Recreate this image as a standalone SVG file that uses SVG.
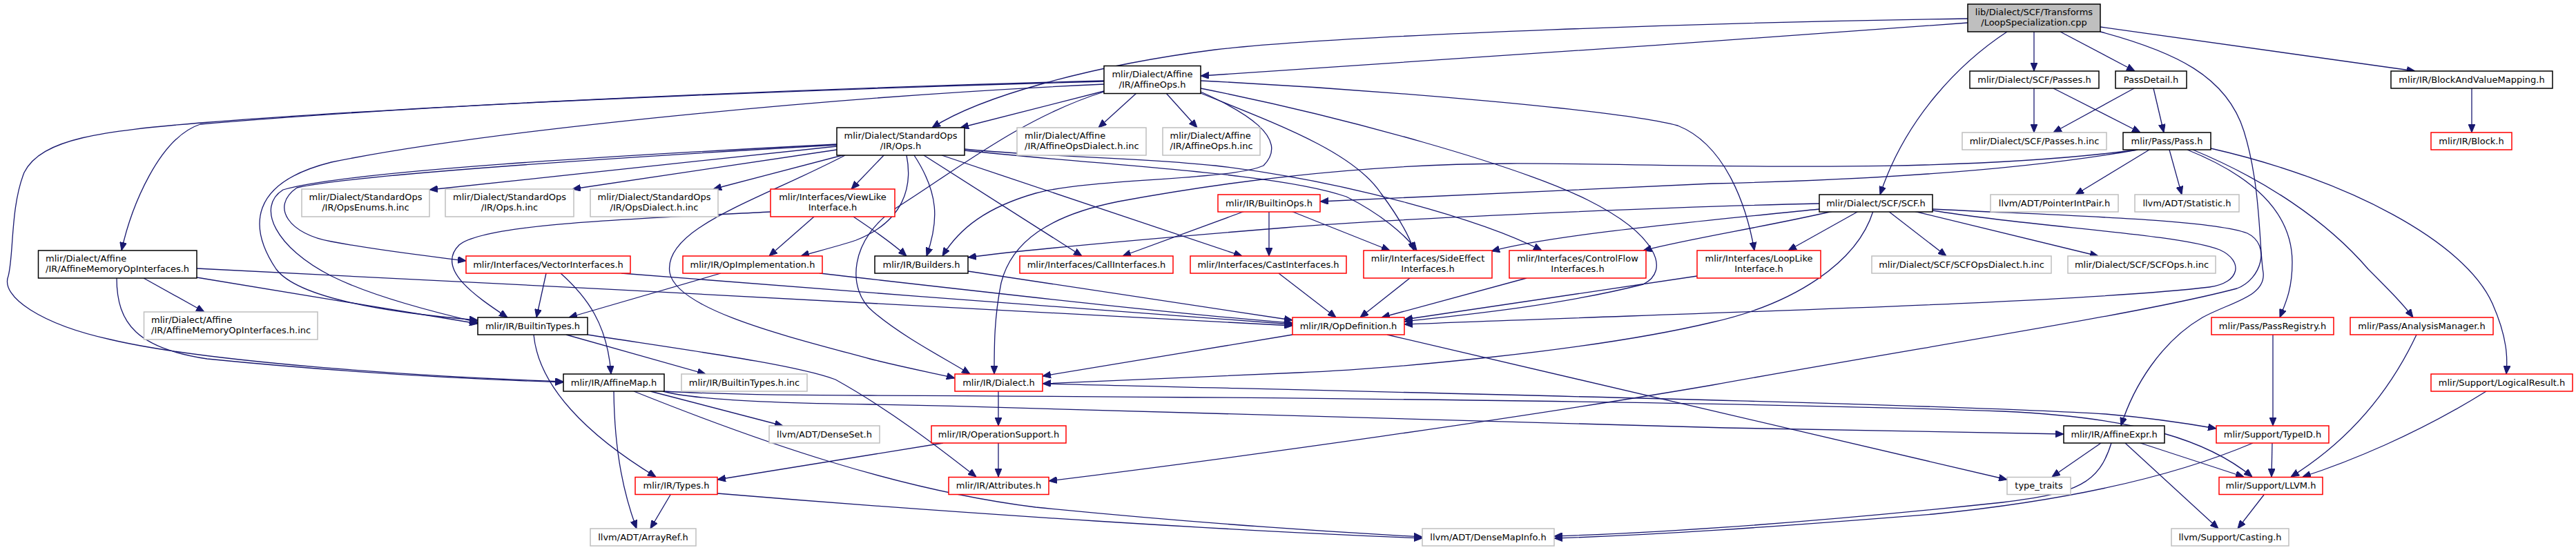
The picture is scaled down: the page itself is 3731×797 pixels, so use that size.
<svg xmlns="http://www.w3.org/2000/svg" width="3731" height="797" viewBox="0 0 3731 797">
<defs>
<style>
.b{fill:#fff;stroke:#000;stroke-width:1.5}
.g{fill:#fff;stroke:#bfbfbf;stroke-width:1.5}
.r{fill:#fff;stroke:#ff0000;stroke-width:1.5}
.top{fill:#bfbfbf;stroke:#000;stroke-width:1.5}
text{font-family:"DejaVu Sans","Liberation Sans",sans-serif;font-size:13px;fill:#000}
.m{text-anchor:middle}
.e path{fill:none;stroke:#191970;stroke-width:1.3;marker-end:url(#ah)}
</style>
<marker id="ah" viewBox="0 0 12 10" refX="12" refY="5" markerWidth="12" markerHeight="10" markerUnits="userSpaceOnUse" orient="auto">
<path d="M0,0 L12,5 L0,10 z" fill="#191970" stroke="#191970" stroke-width="1"/>
</marker>
</defs>
<rect width="3731" height="797" fill="#fff"/>

<g id="edges" class="e">
<path d="M2850,27 C2500,32 1950,50 1760,72 C1580,95 1420,140 1350,185"/>
<path d="M2850,33 C2500,58 2000,95 1739,110"/>
<path d="M2946,46 L2946,103"/>
<path d="M2984,46 L3092,103"/>
<path d="M2907,46 C2840,90 2760,170 2723,282"/>
<path d="M3042,39 L3498,103"/>
<path d="M3042,46 C3150,75 3225,110 3250,190 C3275,270 3272,360 3278,395 C3282,430 3230,438 3190,460 C3130,495 3090,560 3072,617"/>
<path d="M2946,128 L2946,192"/>
<path d="M2974,128 L3100,192"/>
<path d="M3091,128 L2974,192"/>
<path d="M3119,128 L3134,192"/>
<path d="M3580,128 L3580,192"/>
<path d="M3096,217 C2900,252 2650,262 2480,266 C2250,275 2050,285 1912,292"/>
<path d="M3096,217 C2800,256 2400,236 2186,237 C1950,238 1750,268 1620,292 C1520,312 1465,350 1450,410 C1440,460 1440,500 1440,542"/>
<path d="M3113,217 L3006,282"/>
<path d="M3142,217 L3160,282"/>
<path d="M3168,217 C3250,250 3320,300 3320,380 C3320,420 3310,440 3302,460"/>
<path d="M3176,217 C3280,260 3370,320 3430,390 C3460,420 3480,440 3495,460"/>
<path d="M3202,215 C3400,260 3570,350 3610,440 C3632,490 3632,520 3630,542"/>
<path d="M2692,306 L2590,363"/>
<path d="M2735,306 L2819,371"/>
<path d="M2772,306 L3039,371"/>
<path d="M2635,295 C2400,300 2000,318 1860,330 C1700,343 1500,360 1402,373"/>
<path d="M2635,303 C2450,322 2250,340 2160,364"/>
<path d="M2655,306 C2550,330 2450,345 2380,363"/>
<path d="M2713,306 C2690,380 2600,440 2480,467 C2300,510 2000,535 1880,540 C1700,548 1600,552 1510,556"/>
<path d="M2799,305 C2950,330 3150,338 3215,362 C3250,378 3245,410 3200,416 C3000,440 2400,455 2034,470"/>
<path d="M2799,303 C3000,313 3200,318 3255,338 C3290,355 3275,405 3240,418 C3100,455 2800,500 2480,558 C2200,606 1800,662 1519,697"/>
<path d="M1646,135 L1591,185"/>
<path d="M1689,135 L1734,185"/>
<path d="M1599,132 L1391,185"/>
<path d="M1599,133 C1480,170 1380,250 1300,300 C1230,345 1225,420 1265,452 C1310,490 1370,520 1405,542"/>
<path d="M1599,117 C1300,125 700,145 290,180 C230,200 190,300 176,363"/>
<path d="M1599,118 C1300,126 700,146 290,178 C150,190 60,200 35,250 C15,300 20,370 12,400 C0,430 60,470 160,492 C300,525 600,545 816,553"/>
<path d="M1599,122 C1200,140 700,190 480,235 C360,265 360,330 400,390 C430,430 550,452 692,464"/>
<path d="M1739,117 C2000,130 2350,160 2430,182 C2500,210 2530,300 2541,363"/>
<path d="M1739,128 C1950,170 2200,240 2300,290 C2400,340 2420,392 2380,412 C2250,445 2100,458 2034,466"/>
<path d="M1739,133 C1800,160 1870,200 1830,240 C1780,262 1580,258 1500,280 C1430,300 1390,330 1365,371"/>
<path d="M1739,135 C1850,180 1960,220 2000,280 C2030,320 2042,345 2048,363"/>
<path d="M1212,212 L622,275"/>
<path d="M1212,217 L829,274"/>
<path d="M1224,224 L1033,274"/>
<path d="M1281,224 L1233,274"/>
<path d="M1224,225 C1100,290 960,330 970,395 C980,450 1150,490 1260,520 C1320,535 1360,542 1383,548"/>
<path d="M1313,225 C1322,270 1310,320 1240,348 C1210,358 1180,365 1160,371"/>
<path d="M1324,225 C1360,280 1360,320 1342,371"/>
<path d="M1338,225 L1567,371"/>
<path d="M1364,225 L1799,371"/>
<path d="M1397,218 C1600,240 1850,250 1950,285 C2000,310 2035,340 2052,363"/>
<path d="M1397,216 C1520,228 1650,228 1760,240 C1950,262 2150,320 2233,363"/>
<path d="M1212,209 C900,225 500,248 410,275 C370,300 400,360 480,400 C540,430 640,455 692,467"/>
<path d="M1212,210 C900,228 520,252 430,272 C390,300 420,340 480,350 C560,365 630,372 675,378"/>
<path d="M1179,314 L1114,371"/>
<path d="M1236,314 C1260,330 1290,350 1313,371"/>
<path d="M1116,307 C900,318 700,325 665,355 C630,390 690,430 735,460"/>
<path d="M791,396 L777,460"/>
<path d="M812,396 C850,430 880,470 885,542"/>
<path d="M900,396 C1200,420 1600,450 1872,470"/>
<path d="M1044,396 L824,460"/>
<path d="M1187,396 C1400,420 1700,455 1872,468"/>
<path d="M1402,393 L1872,464"/>
<path d="M208,403 L296,452"/>
<path d="M169,403 C169,470 200,505 300,520 C500,540 700,550 816,554"/>
<path d="M285,402 C450,430 600,455 692,469"/>
<path d="M285,389 C800,415 1500,450 1872,472"/>
<path d="M773,485 C780,560 850,630 950,691"/>
<path d="M820,485 L1022,542"/>
<path d="M851,485 C1000,508 1150,528 1210,550 C1300,600 1380,665 1414,691"/>
<path d="M889,567 C890,660 905,720 922,766"/>
<path d="M942,567 L1134,617"/>
<path d="M918,567 C1100,640 1300,710 1500,735 C1750,760 1950,772 2060,778"/>
<path d="M960,567 C1000,578 1100,584 1260,586 C1600,592 1900,607 2500,620 C2800,625 2900,627 2989,629"/>
<path d="M962,567 C1050,572 1150,573 1260,573 C1800,575 2500,582 2900,596 C3100,605 3200,640 3262,691"/>
<path d="M1446,567 L1446,617"/>
<path d="M1510,556 C2000,568 2800,585 3050,600 C3120,606 3170,614 3210,621"/>
<path d="M1446,642 L1446,691"/>
<path d="M1366,642 L1039,695"/>
<path d="M1872,485 L1510,545"/>
<path d="M2009,485 L2907,695"/>
<path d="M3043,642 L2972,691"/>
<path d="M3058,642 C3040,700 3010,715 2900,728 C2600,760 2400,772 2251,777"/>
<path d="M3078,642 L3213,766"/>
<path d="M3100,642 L3250,691"/>
<path d="M3291,642 L3290,691"/>
<path d="M3263,642 C3150,690 3000,725 2800,745 C2550,765 2400,775 2251,780"/>
<path d="M3292,485 L3292,617"/>
<path d="M3500,485 C3460,570 3400,640 3318,691"/>
<path d="M3601,567 C3500,630 3400,670 3335,691"/>
<path d="M3279,717 L3241,766"/>
<path d="M971,717 L942,766"/>
<path d="M1039,715 C1400,745 1800,770 2060,780"/>
<path d="M1803,306 L1626,371"/>
<path d="M1838,306 L1838,371"/>
<path d="M1870,306 L2013,363"/>
<path d="M1852,396 L1935,460"/>
<path d="M2042,403 L1970,460"/>
<path d="M2211,403 L2001,460"/>
<path d="M2458,400 L2034,463"/>
</g>

<g id="n_top"><rect class="top" x="2850" y="6" width="192" height="40"/><text class="m" x="2946" y="22">lib/Dialect/SCF/Transforms</text><text class="m" x="2946" y="37">/LoopSpecialization.cpp</text></g>
<g id="n_affineops"><rect class="b" x="1599" y="95.5" width="140" height="40"/><text class="m" x="1669" y="111.5">mlir/Dialect/Affine</text><text class="m" x="1669" y="126.5">/IR/AffineOps.h</text></g>
<g id="n_scfpasses"><rect class="b" x="2853" y="103" width="187" height="25"/><text class="m" x="2946.5" y="119.5">mlir/Dialect/SCF/Passes.h</text></g>
<g id="n_passdetail"><rect class="b" x="3064" y="103" width="103" height="25"/><text class="m" x="3115.5" y="119.5">PassDetail.h</text></g>
<g id="n_bvm"><rect class="b" x="3463" y="103" width="234" height="25"/><text class="m" x="3580" y="119.5">mlir/IR/BlockAndValueMapping.h</text></g>

<g id="n_stdops"><rect class="b" x="1212" y="185" width="185" height="40"/><text class="m" x="1304.5" y="201">mlir/Dialect/StandardOps</text><text class="m" x="1304.5" y="216">/IR/Ops.h</text></g>
<g id="n_aodinc"><rect class="g" x="1473" y="185" width="187" height="40"/><text x="1484" y="201">mlir/Dialect/Affine</text><text x="1484" y="216">/IR/AffineOpsDialect.h.inc</text></g>
<g id="n_aoinc"><rect class="g" x="1684" y="185" width="141" height="40"/><text x="1694.5" y="201">mlir/Dialect/Affine</text><text x="1694.5" y="216">/IR/AffineOps.h.inc</text></g>
<g id="n_passesinc"><rect class="g" x="2842" y="192" width="209" height="25"/><text class="m" x="2946.5" y="208.5">mlir/Dialect/SCF/Passes.h.inc</text></g>
<g id="n_pass"><rect class="b" x="3075" y="192" width="127" height="25"/><text class="m" x="3138.5" y="208.5">mlir/Pass/Pass.h</text></g>
<g id="n_block"><rect class="r" x="3521" y="192" width="117" height="25"/><text class="m" x="3579.5" y="208.5">mlir/IR/Block.h</text></g>

<g id="n_opsenums"><rect class="g" x="437" y="274" width="185" height="40"/><text class="m" x="529.5" y="290">mlir/Dialect/StandardOps</text><text class="m" x="529.5" y="305">/IR/OpsEnums.h.inc</text></g>
<g id="n_opsinc"><rect class="g" x="645" y="274" width="186" height="40"/><text class="m" x="738" y="290">mlir/Dialect/StandardOps</text><text class="m" x="738" y="305">/IR/Ops.h.inc</text></g>
<g id="n_opsdialect"><rect class="g" x="855" y="274" width="185" height="40"/><text class="m" x="947.5" y="290">mlir/Dialect/StandardOps</text><text class="m" x="947.5" y="305">/IR/OpsDialect.h.inc</text></g>
<g id="n_viewlike"><rect class="r" x="1116" y="274" width="180" height="40"/><text class="m" x="1206" y="290">mlir/Interfaces/ViewLike</text><text class="m" x="1206" y="305">Interface.h</text></g>
<g id="n_builtinops"><rect class="r" x="1764" y="282" width="148" height="25"/><text class="m" x="1838" y="298.5">mlir/IR/BuiltinOps.h</text></g>
<g id="n_scf"><rect class="b" x="2635" y="282" width="164" height="25"/><text class="m" x="2717" y="298.5">mlir/Dialect/SCF/SCF.h</text></g>
<g id="n_pip"><rect class="g" x="2883" y="282" width="185" height="25"/><text class="m" x="2975.5" y="298.5">llvm/ADT/PointerIntPair.h</text></g>
<g id="n_stat"><rect class="g" x="3092" y="282" width="151" height="25"/><text class="m" x="3167.5" y="298.5">llvm/ADT/Statistic.h</text></g>

<g id="n_amoi"><rect class="b" x="55.5" y="363" width="229.5" height="40"/><text x="66" y="379">mlir/Dialect/Affine</text><text x="66" y="394">/IR/AffineMemoryOpInterfaces.h</text></g>
<g id="n_vector"><rect class="r" x="675" y="371" width="238" height="25"/><text class="m" x="794" y="387.5">mlir/Interfaces/VectorInterfaces.h</text></g>
<g id="n_opimpl"><rect class="r" x="989" y="371" width="202" height="25"/><text class="m" x="1090" y="387.5">mlir/IR/OpImplementation.h</text></g>
<g id="n_builders"><rect class="b" x="1267" y="371" width="135" height="25"/><text class="m" x="1334.5" y="387.5">mlir/IR/Builders.h</text></g>
<g id="n_call"><rect class="r" x="1477" y="371" width="222" height="25"/><text class="m" x="1588" y="387.5">mlir/Interfaces/CallInterfaces.h</text></g>
<g id="n_cast"><rect class="r" x="1724" y="371" width="226" height="25"/><text class="m" x="1837" y="387.5">mlir/Interfaces/CastInterfaces.h</text></g>
<g id="n_sideeffect"><rect class="r" x="1975" y="363" width="186" height="40"/><text class="m" x="2068" y="379">mlir/Interfaces/SideEffect</text><text class="m" x="2068" y="394">Interfaces.h</text></g>
<g id="n_controlflow"><rect class="r" x="2186" y="363" width="198" height="40"/><text class="m" x="2285" y="379">mlir/Interfaces/ControlFlow</text><text class="m" x="2285" y="394">Interfaces.h</text></g>
<g id="n_looplike"><rect class="r" x="2458" y="363" width="179" height="40"/><text class="m" x="2547.5" y="379">mlir/Interfaces/LoopLike</text><text class="m" x="2547.5" y="394">Interface.h</text></g>
<g id="n_scfdialectinc"><rect class="g" x="2711" y="371" width="260" height="25"/><text class="m" x="2841" y="387.5">mlir/Dialect/SCF/SCFOpsDialect.h.inc</text></g>
<g id="n_scfopsinc"><rect class="g" x="2995" y="371" width="214" height="25"/><text class="m" x="3102" y="387.5">mlir/Dialect/SCF/SCFOps.h.inc</text></g>

<g id="n_amoiinc"><rect class="g" x="208.5" y="452" width="251.5" height="40"/><text x="219" y="468">mlir/Dialect/Affine</text><text x="219" y="483">/IR/AffineMemoryOpInterfaces.h.inc</text></g>
<g id="n_builtintypes"><rect class="b" x="692" y="460" width="159" height="25"/><text class="m" x="771.5" y="476.5">mlir/IR/BuiltinTypes.h</text></g>
<g id="n_opdef"><rect class="r" x="1872" y="460" width="162" height="25"/><text class="m" x="1953" y="476.5">mlir/IR/OpDefinition.h</text></g>
<g id="n_passreg"><rect class="r" x="3203" y="460" width="177" height="25"/><text class="m" x="3291.5" y="476.5">mlir/Pass/PassRegistry.h</text></g>
<g id="n_analysis"><rect class="r" x="3404" y="460" width="207" height="25"/><text class="m" x="3507.5" y="476.5">mlir/Pass/AnalysisManager.h</text></g>

<g id="n_affinemap"><rect class="b" x="816" y="542" width="146" height="25"/><text class="m" x="889" y="558.5">mlir/IR/AffineMap.h</text></g>
<g id="n_bttinc"><rect class="g" x="987" y="542" width="182" height="25"/><text class="m" x="1078" y="558.5">mlir/IR/BuiltinTypes.h.inc</text></g>
<g id="n_dialect"><rect class="r" x="1383" y="542" width="127" height="25"/><text class="m" x="1446.5" y="558.5">mlir/IR/Dialect.h</text></g>
<g id="n_logical"><rect class="r" x="3521" y="542" width="205" height="25"/><text class="m" x="3623.5" y="558.5">mlir/Support/LogicalResult.h</text></g>

<g id="n_denseset"><rect class="g" x="1114" y="617" width="160" height="25"/><text class="m" x="1194" y="633.5">llvm/ADT/DenseSet.h</text></g>
<g id="n_opsupport"><rect class="r" x="1349" y="617" width="195" height="25"/><text class="m" x="1446.5" y="633.5">mlir/IR/OperationSupport.h</text></g>
<g id="n_affineexpr"><rect class="b" x="2989" y="617" width="146" height="25"/><text class="m" x="3062" y="633.5">mlir/IR/AffineExpr.h</text></g>
<g id="n_typeid"><rect class="r" x="3210" y="617" width="163" height="25"/><text class="m" x="3291.5" y="633.5">mlir/Support/TypeID.h</text></g>

<g id="n_types"><rect class="r" x="920" y="691.5" width="119" height="25"/><text class="m" x="979.5" y="708">mlir/IR/Types.h</text></g>
<g id="n_attributes"><rect class="r" x="1374" y="691.5" width="145" height="25"/><text class="m" x="1446.5" y="708">mlir/IR/Attributes.h</text></g>
<g id="n_typetraits"><rect class="g" x="2907" y="691.5" width="92" height="25"/><text class="m" x="2953" y="708">type_traits</text></g>
<g id="n_llvm"><rect class="r" x="3214" y="691.5" width="150" height="25"/><text class="m" x="3289" y="708">mlir/Support/LLVM.h</text></g>

<g id="n_arrayref"><rect class="g" x="855" y="766" width="153" height="25"/><text class="m" x="931.5" y="782.5">llvm/ADT/ArrayRef.h</text></g>
<g id="n_densemapinfo"><rect class="g" x="2060" y="766" width="191" height="25"/><text class="m" x="2155.5" y="782.5">llvm/ADT/DenseMapInfo.h</text></g>
<g id="n_casting"><rect class="g" x="3145" y="766" width="170" height="25"/><text class="m" x="3230" y="782.5">llvm/Support/Casting.h</text></g>
</svg>
